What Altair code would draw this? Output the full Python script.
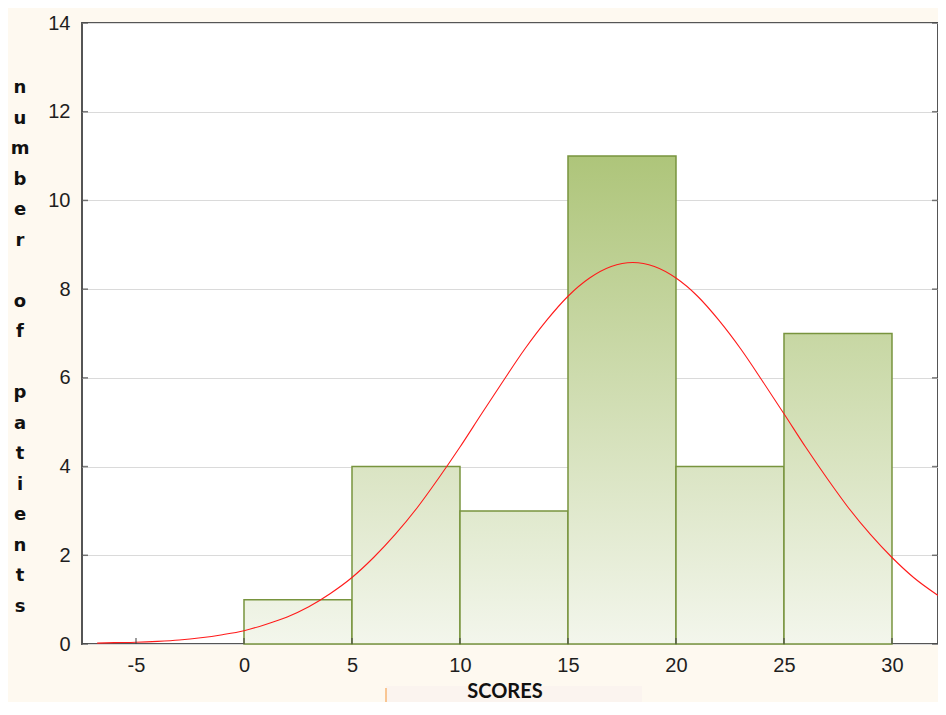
import altair as alt
import pandas as pd

# ---- data ----
bin_start = [0, 5, 10, 15, 20, 25]
bin_end = [5, 10, 15, 20, 25, 30]
counts = [1, 4, 3, 11, 4, 7]

curve_x = [-6.8, -6, -5, -4, -3, -2, -1, 0, 1, 2, 3, 4, 5, 6, 7, 8, 9, 10, 11, 12,
           13, 14, 15, 16, 17, 18, 19, 20, 21, 22, 23, 24, 25, 26, 27, 28, 29, 30,
           31, 32, 32.5]
curve_y = [0.02, 0.03, 0.04, 0.06, 0.09, 0.14, 0.21, 0.30, 0.44, 0.61, 0.84, 1.14,
           1.50, 1.95, 2.47, 3.06, 3.73, 4.44, 5.19, 5.93, 6.65, 7.29, 7.84, 8.25,
           8.51, 8.60, 8.51, 8.25, 7.84, 7.29, 6.65, 5.93, 5.19, 4.44, 3.73, 3.06,
           2.47, 1.95, 1.50, 1.14, 0.98]

x_ticks = [-5, 0, 5, 10, 15, 20, 25, 30]
y_ticks = [0, 2, 4, 6, 8, 10, 12, 14]
y_title_words = [["n", "u", "m", "b", "e", "r"], ["o", "f"],
                 ["p", "a", "t", "i", "e", "n", "t", "s"]]
x_title = "SCORES"

# ---- layout / style ----
W, H = 856, 621
LINE = 30.5
x_scale = alt.Scale(domain=[-7.5, 32.13], nice=False, zero=False)
y_scale = alt.Scale(domain=[0, 14], nice=False)

dark = (174, 197, 122)
light = (243, 246, 236)


def mix(t):
    return "#%02x%02x%02x" % tuple(round(l + (d - l) * t) for d, l in zip(dark, light))


bars_df = pd.DataFrame({"start": bin_start, "end": bin_end, "count": counts})
curve_df = pd.DataFrame({"x": curve_x, "y": curve_y})

x_axis = alt.Axis(values=x_ticks, grid=False, domain=False, ticks=False,
                  labelExpr="toString(datum.value)",
                  labelFont="Liberation Sans", labelFontSize=20, labelColor="#1e1e1e",
                  labelPadding=11, title=None)
y_axis = alt.Axis(values=y_ticks, grid=True, gridColor="#dadada", gridWidth=1,
                  domain=False, ticks=False,
                  labelExpr="toString(datum.value)",
                  labelFont="Liberation Sans", labelFontSize=20, labelColor="#1e1e1e",
                  labelPadding=12, title=None)


def X(field):
    return alt.X(field, scale=x_scale, axis=x_axis)


def Y(field):
    return alt.Y(field, scale=y_scale, axis=y_axis)


bar_layers = []
for i in range(len(counts)):
    top = mix(counts[i] / 11.0)
    grad = alt.LinearGradient(
        gradient="linear",
        stops=[alt.GradientStop(offset=0, color=top),
               alt.GradientStop(offset=1, color=mix(0))],
        x1=0, x2=0, y1=0, y2=1,
    )
    bar_layers.append(
        alt.Chart(bars_df.iloc[[i]]).mark_rect(fill=grad, stroke="#78943e", strokeWidth=1.5).encode(
            x=X("start:Q"), x2="end:Q", y=Y("count:Q"), y2=alt.datum(0),
        )
    )

curve = alt.Chart(curve_df).mark_line(color="#ff1a1a", strokeWidth=1.1, interpolate="monotone").encode(
    x=X("x:Q"), y=Y("y:Q"),
)

yt_df = pd.DataFrame({"v": y_ticks})
xt_df = pd.DataFrame({"v": x_ticks})
ticks_left = alt.Chart(yt_df).mark_tick(orient="horizontal", size=6, thickness=1.5, color="#444").encode(
    y=Y("v:Q"), x=alt.value(3))
ticks_right = alt.Chart(yt_df).mark_tick(orient="horizontal", size=6, thickness=1.5, color="#444").encode(
    y=Y("v:Q"), x=alt.value(W - 3))
ticks_bottom = alt.Chart(xt_df).mark_tick(orient="vertical", size=6, thickness=1.5, color="#444").encode(
    x=X("v:Q"), y=alt.value(H - 3))

one = pd.DataFrame({"a": [0]})
title_starts = [0, 7, 10]
y_title_layers = [
    alt.Chart(one).mark_text(
        font="DejaVu Sans", fontWeight="bold", fontSize=18, lineHeight=LINE,
        align="center", baseline="alphabetic", color="#111",
    ).encode(x=alt.value(-62), y=alt.value(70 + s * LINE), text=alt.value(word))
    for word, s in zip(y_title_words, title_starts)
]

x_title_bg = alt.Chart(one).mark_rect(color="#fbf4ef").encode(
    x=alt.value(304), x2=alt.value(560), y=alt.value(663), y2=alt.value(700))
x_title_mark = alt.Chart(one).mark_rule(color="#f6a556", strokeWidth=1.2).encode(
    x=alt.value(304), y=alt.value(665), y2=alt.value(680))
x_title_text = alt.Chart(one).mark_text(
    font="Lato", fontWeight="bold", fontSize=20, align="center", baseline="alphabetic", color="#111",
).encode(x=alt.value(423), y=alt.value(675), text=alt.value(x_title))

chart = alt.layer(
    *bar_layers, curve, ticks_left, ticks_right, ticks_bottom,
    *y_title_layers, x_title_bg, x_title_mark, x_title_text,
).properties(
    width=W, height=H,
    autosize=alt.AutoSizeParams(type="none"),
    padding={"left": 74, "top": 15, "right": 0, "bottom": 58},
    background="#fef9f0",
).configure_view(
    fill="white", stroke="#555", strokeWidth=2,
)

chart.save("out.html", embed_options={"renderer": "svg", "actions": False})
